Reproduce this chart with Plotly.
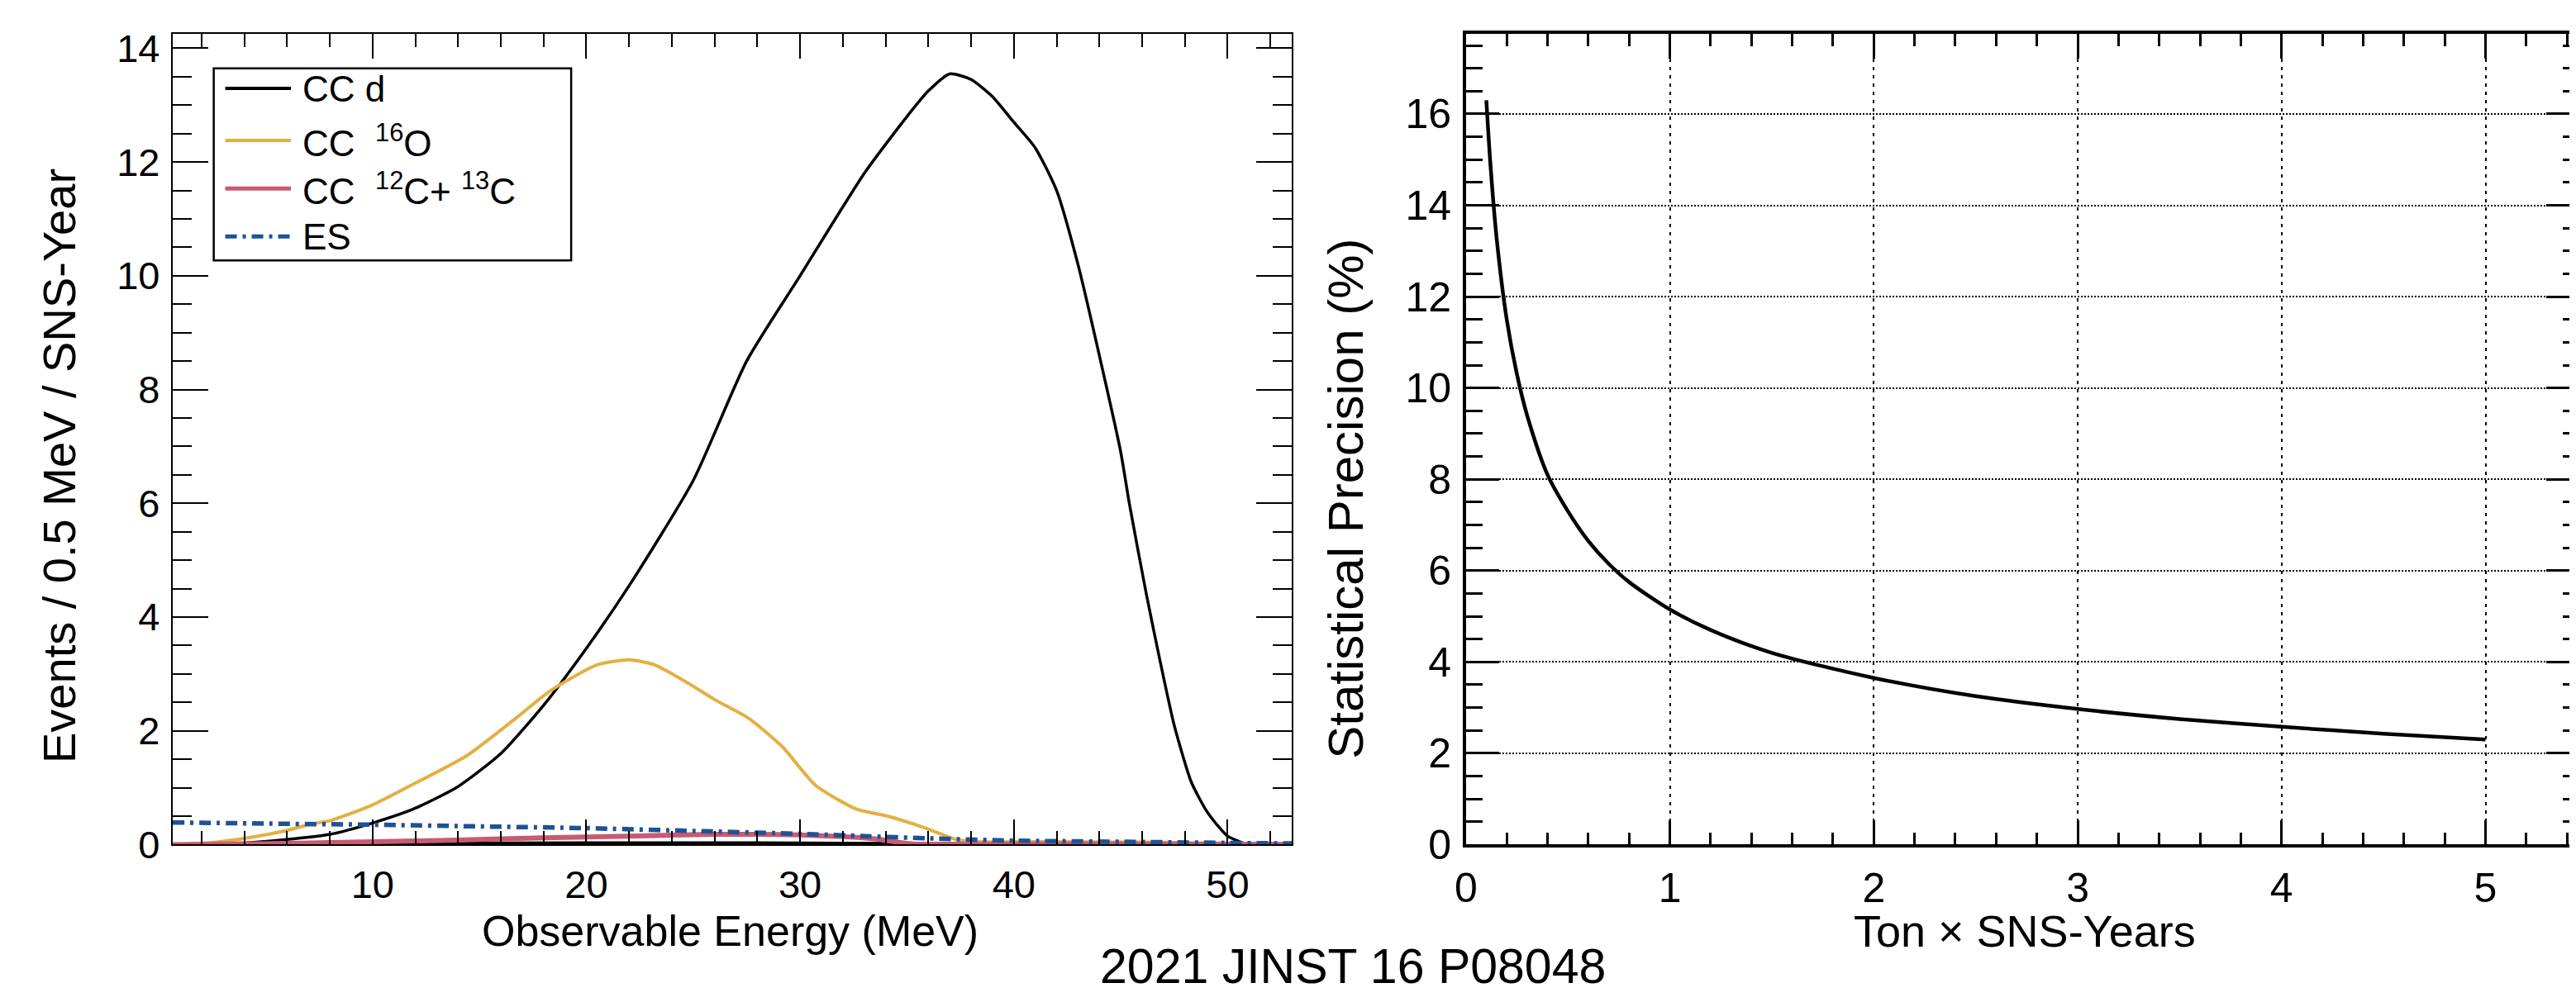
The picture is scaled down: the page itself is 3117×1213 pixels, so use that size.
import plotly.graph_objects as go

# ---- left panel: expected spectra (events / 0.5 MeV / SNS-year) ----
ccd_e = [0.65, 2, 4, 6, 8, 10, 12, 14, 16, 18, 20, 22, 25, 27.5, 30, 33, 35, 36, 37, 38, 39,
         40, 41, 42, 43, 44, 45, 45.4, 46.2, 46.8, 47.5, 48.3, 49, 49.5, 50, 50.8, 51.5, 53]
ccd_n = [0, 0.01, 0.03, 0.09, 0.18, 0.38, 0.64, 1.02, 1.6, 2.45, 3.45, 4.55, 6.4, 8.5, 10.0, 11.8, 12.8, 13.25, 13.55, 13.45, 13.15,
         12.7, 12.25, 11.5, 10.2, 8.6, 6.9, 6.0, 4.4, 3.3, 2.1, 1.1, 0.6, 0.35, 0.15, 0.02, 0, 0]

# flat black piece sitting on the axis (no legend entry in the original)
low_e = [7.4, 14, 20, 28, 35]
low_n = [0.01, 0.02, 0.02, 0.02, 0.01]

o16_e = [0.65, 2, 4, 6, 7.1, 8, 9.9, 12.1, 14.4, 16.7, 18.3, 20.5, 22, 23.2, 24.8, 26, 27.6, 29.2,
         30.7, 32.6, 34.2, 35.8, 37.4, 38.5, 42, 47, 50, 53]
o16_n = [0, 0.02, 0.11, 0.25, 0.36, 0.42, 0.68, 1.1, 1.56, 2.22, 2.7, 3.16, 3.25, 3.16, 2.83, 2.55, 2.22, 1.71,
         1.05, 0.63, 0.49, 0.30, 0.08, 0.05, 0.05, 0.04, 0.02, 0.01]

c12_e = [0.65, 3, 6, 10, 14, 18, 22, 26, 28, 30, 32, 33.5, 34.6, 35.3, 40, 53]
c12_n = [0, 0.01, 0.02, 0.05, 0.08, 0.12, 0.15, 0.18, 0.18, 0.17, 0.14, 0.1, 0.04, 0.01, 0.01, 0.005]

es_e = [0.65, 5, 10, 15, 20, 25, 30, 33, 36, 40, 45, 50, 53]
es_n = [0.39, 0.37, 0.35, 0.32, 0.29, 0.24, 0.19, 0.15, 0.11, 0.07, 0.05, 0.03, 0.02]

# ---- right panel: statistical precision vs exposure ----
exposure = [0.1, 0.12, 0.15, 0.2, 0.25, 0.3, 0.4, 0.5, 0.6, 0.7, 0.8, 1.0, 1.2, 1.5, 2.0, 2.5, 3.0, 3.5, 4.0, 4.5, 5.0]
precision = [16.3, 14.9, 13.3, 11.5, 10.3, 9.4, 8.1, 7.3, 6.65, 6.15, 5.75, 5.15, 4.7, 4.2, 3.65, 3.25, 2.97, 2.75, 2.58, 2.43, 2.30]

legend_names = ["CC d", "CC  <sup>16</sup>O", "CC  <sup>12</sup>C+ <sup>13</sup>C", "ES"]

W, H = 3117, 1213
FONT = "Liberation Sans, Arial, Helvetica, sans-serif"
BLACK = "#000000"
YELLOW = "#E2B043"
RED = "#C85A72"
BLUE = "#1E5296"
ES_DASH = "14px,7px,4px,7px"

fig = go.Figure()

fig.add_trace(go.Scatter(x=low_e, y=low_n, mode="lines", line=dict(color=BLACK, width=5),
                         showlegend=False, xaxis="x", yaxis="y"))
fig.add_trace(go.Scatter(x=ccd_e, y=ccd_n, mode="lines", line=dict(color=BLACK, width=3.5, shape="spline", smoothing=0.6),
                         name="CC d", showlegend=False, xaxis="x", yaxis="y"))
fig.add_trace(go.Scatter(x=o16_e, y=o16_n, mode="lines", line=dict(color=YELLOW, width=4, shape="spline", smoothing=0.6),
                         name="CC 16O", showlegend=False, xaxis="x", yaxis="y"))
fig.add_trace(go.Scatter(x=c12_e, y=c12_n, mode="lines", line=dict(color=RED, width=6, shape="spline", smoothing=0.6),
                         name="CC 12C+13C", showlegend=False, xaxis="x", yaxis="y"))
fig.add_trace(go.Scatter(x=es_e, y=es_n, mode="lines", line=dict(color=BLUE, width=5.5, dash=ES_DASH, shape="spline", smoothing=0.6),
                         name="ES", showlegend=False, xaxis="x", yaxis="y"))

fig.add_trace(go.Scatter(x=exposure, y=precision, mode="lines", line=dict(color=BLACK, width=4.5, shape="spline", smoothing=0.8),
                         showlegend=False, xaxis="x2", yaxis="y2"))

# plot area positions (pixels of the 3117x1213 page)
lx0, lx1 = 188 / W, 1550 / W
rx0, rx1 = 1762 / W, 1.0
y0, y1 = (H - 1038) / H, (H - 25) / H

tickfont_l = dict(family=FONT, size=47, color=BLACK)
tickfont_r = dict(family=FONT, size=50, color=BLACK)

fig.update_layout(
    width=W, height=H,
    margin=dict(l=0, r=0, t=0, b=0),
    paper_bgcolor="white", plot_bgcolor="white",
    font=dict(family=FONT, color=BLACK),
    xaxis=dict(domain=[lx0, lx1], range=[0.65, 53], anchor="y",
               showline=True, linewidth=2, linecolor=BLACK, mirror="ticks",
               ticks="inside", tick0=0, dtick=10, ticklen=30, tickwidth=2, tickcolor=BLACK,
               minor=dict(ticks="inside", dtick=2, ticklen=16, tickwidth=2, tickcolor=BLACK),
               showgrid=False, zeroline=False, tickfont=tickfont_l, ticklabelstandoff=6),
    yaxis=dict(domain=[y0, y1], range=[0, 14.25], anchor="x",
               showline=True, linewidth=2, linecolor=BLACK, mirror="ticks",
               ticks="inside", tick0=0, dtick=2, ticklen=43, tickwidth=2, tickcolor=BLACK,
               minor=dict(ticks="inside", dtick=0.5, ticklen=23, tickwidth=2, tickcolor=BLACK),
               showgrid=False, zeroline=False, tickfont=tickfont_l, ticklabelstandoff=4),
    xaxis2=dict(domain=[rx0, rx1], range=[0, 5.46], anchor="y2",
                showline=True, linewidth=3.5, linecolor=BLACK, mirror="ticks",
                ticks="inside", tick0=0, dtick=1, ticklen=30, tickwidth=2.5, tickcolor=BLACK,
                minor=dict(ticks="inside", dtick=0.2, ticklen=15, tickwidth=2.5, tickcolor=BLACK, showgrid=False),
                showgrid=True, gridcolor=BLACK, gridwidth=1.5, griddash="4px,6px",
                zeroline=False, tickfont=tickfont_r, ticklabelstandoff=6),
    yaxis2=dict(domain=[y0, y1], range=[0, 17.75], anchor="x2",
                showline=True, linewidth=3.5, linecolor=BLACK, mirror="ticks",
                ticks="inside", tick0=0, dtick=2, ticklen=40, tickwidth=2.5, tickcolor=BLACK,
                minor=dict(ticks="inside", dtick=0.5, ticklen=20, tickwidth=2.5, tickcolor=BLACK, showgrid=False),
                showgrid=True, gridcolor=BLACK, gridwidth=2, griddash="2px,2px",
                zeroline=False, tickfont=tickfont_r, ticklabelstandoff=4),
)

# hand-made legend box in the style of the original
leg_colors = [BLACK, YELLOW, RED, BLUE]
leg_widths = [4, 4, 5, 5]
leg_dash = ["solid", "solid", "solid", ES_DASH]
leg_y = [93, 158, 218, 278]
fig.add_shape(type="rect", xref="paper", yref="paper",
              x0=238 / W, x1=673 / W, y0=(H - 308) / H, y1=(H - 68) / H,
              line=dict(color=BLACK, width=2.5), fillcolor="white", layer="above")
for name, col, wd, ds, yy in zip(legend_names, leg_colors, leg_widths, leg_dash, leg_y):
    fig.add_shape(type="line", xref="paper", yref="paper",
                  x0=252 / W, x1=332 / W, y0=(H - yy) / H, y1=(H - yy) / H,
                  line=dict(color=col, width=wd, dash=ds), layer="above")
    fig.add_annotation(xref="paper", yref="paper", x=344 / W, y=(H - yy) / H,
                       text=name, showarrow=False, xanchor="left", yanchor="middle",
                       font=dict(family=FONT, size=44, color=BLACK))

# axis titles and the citation line
fig.add_annotation(xref="paper", yref="paper", x=867 / W, y=(H - 1146) / H,
                   text="Observable Energy (MeV)", showarrow=False, xanchor="center", yanchor="middle",
                   font=dict(family=FONT, size=52, color=BLACK))
fig.add_annotation(xref="paper", yref="paper", x=50 / W, y=(H - 565) / H,
                   text="Events / 0.5 MeV / SNS-Year", showarrow=False, textangle=-90,
                   xanchor="center", yanchor="middle",
                   font=dict(family=FONT, size=56, color=BLACK))
fig.add_annotation(xref="paper", yref="paper", x=2442 / W, y=(H - 1146) / H,
                   text="Ton × SNS-Years", showarrow=False, xanchor="center", yanchor="middle",
                   font=dict(family=FONT, size=54, color=BLACK))
fig.add_annotation(xref="paper", yref="paper", x=1615 / W, y=(H - 606) / H,
                   text="Statistical Precision (%)", showarrow=False, textangle=-90,
                   xanchor="center", yanchor="middle",
                   font=dict(family=FONT, size=60, color=BLACK))
fig.add_annotation(xref="paper", yref="paper", x=1624 / W, y=(H - 1190) / H,
                   text="2021 JINST 16 P08048", showarrow=False, xanchor="center", yanchor="middle",
                   font=dict(family=FONT, size=59, color=BLACK))

fig.write_html("out.html")
